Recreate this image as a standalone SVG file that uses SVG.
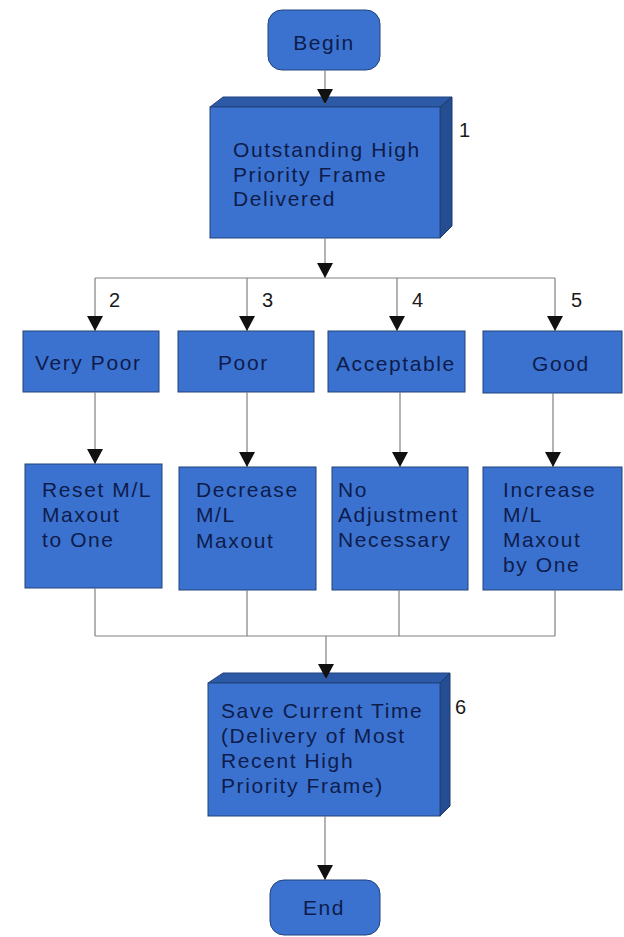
<svg xmlns="http://www.w3.org/2000/svg" width="624" height="937" viewBox="0 0 624 937">
  <style>
    .box { fill: #3b72cf; stroke: #22427a; stroke-width: 1; }
    .top { fill: #2d5aa6; stroke: #22427a; stroke-width: 1; }
    .side { fill: #254d91; stroke: #1d3a6c; stroke-width: 1; }
    .txt { font-family: "Liberation Sans", Arial, sans-serif; font-size: 21px; letter-spacing: 1.6px; fill: #0e1c4c; }
    .num { font-family: "Liberation Sans", Arial, sans-serif; font-size: 20px; fill: #1a1a1a; }
    .conn { fill: none; stroke: #808080; stroke-width: 1.2; }
    .arr { fill: none; stroke: #808080; stroke-width: 1.2; marker-end: url(#head); }
  </style>
  <defs>
    <marker id="head" markerUnits="userSpaceOnUse" viewBox="0 0 15 16" markerWidth="15" markerHeight="16" refX="15" refY="8" orient="auto">
      <path d="M0,0 L15,8 L0,16 Z" fill="#111"/>
    </marker>
  </defs>
  <rect width="624" height="937" fill="#ffffff"/>

  <!-- terminal: start -->
  <g id="begin">
    <rect class="box" x="268" y="10" width="112" height="60" rx="14"/>
    <text class="txt" x="324" y="50" text-anchor="middle">Begin</text>
  </g>

  <!-- step 1 (raised block) -->
  <g id="step1">
    <polygon class="top" points="210,107 223,97 452,97 440,107"/>
    <polygon class="side" points="440,107 452,97 452,226 440,238"/>
    <rect class="box" x="210" y="107" width="230" height="131"/>
    <text class="txt" x="233" y="157">Outstanding High</text>
    <text class="txt" x="233" y="182">Priority Frame</text>
    <text class="txt" x="233" y="206">Delivered</text>
    <text class="num" x="459" y="137">1</text>
  </g>

  <!-- quality classes -->
  <g id="very-poor">
    <rect class="box" x="23" y="331" width="136" height="61"/>
    <text class="txt" x="35" y="370">Very Poor</text>
  </g>
  <g id="poor">
    <rect class="box" x="178" y="331" width="136" height="61"/>
    <text class="txt" x="218" y="370">Poor</text>
  </g>
  <g id="acceptable">
    <rect class="box" x="328" y="331" width="137" height="61"/>
    <text class="txt" x="336" y="371">Acceptable</text>
  </g>
  <g id="good">
    <rect class="box" x="483" y="331" width="139" height="62"/>
    <text class="txt" x="532" y="371">Good</text>
  </g>

  <!-- adjustments -->
  <g id="reset">
    <rect class="box" x="25" y="464" width="137" height="124"/>
    <text class="txt" x="42" y="497">Reset M/L</text>
    <text class="txt" x="42" y="522">Maxout</text>
    <text class="txt" x="42" y="547">to One</text>
  </g>
  <g id="decrease">
    <rect class="box" x="179" y="467" width="137" height="123"/>
    <text class="txt" x="196" y="497">Decrease</text>
    <text class="txt" x="196" y="522">M/L</text>
    <text class="txt" x="196" y="548">Maxout</text>
  </g>
  <g id="no-adjust">
    <rect class="box" x="332" y="467" width="136" height="123"/>
    <text class="txt" x="338" y="497">No</text>
    <text class="txt" x="338" y="522">Adjustment</text>
    <text class="txt" x="338" y="547">Necessary</text>
  </g>
  <g id="increase">
    <rect class="box" x="483" y="467" width="139" height="123"/>
    <text class="txt" x="503" y="497">Increase</text>
    <text class="txt" x="503" y="522">M/L</text>
    <text class="txt" x="503" y="547">Maxout</text>
    <text class="txt" x="503" y="572">by One</text>
  </g>

  <!-- step 6 (raised block) -->
  <g id="step6">
    <polygon class="top" points="208,683 223,673 450,673 440,683"/>
    <polygon class="side" points="440,683 450,673 450,806 440,816"/>
    <rect class="box" x="208" y="683" width="232" height="133"/>
    <text class="txt" x="221" y="718">Save Current Time</text>
    <text class="txt" x="221" y="743">(Delivery of Most</text>
    <text class="txt" x="221" y="768">Recent High</text>
    <text class="txt" x="221" y="793">Priority Frame)</text>
    <text class="num" x="455" y="714">6</text>
  </g>

  <!-- terminal: finish -->
  <g id="end">
    <rect class="box" x="270" y="880" width="110" height="55" rx="14"/>
    <text class="txt" x="324" y="915" text-anchor="middle">End</text>
  </g>

  <!-- branch numbers -->
  <g id="branch-labels">
    <text class="num" x="109" y="307">2</text>
    <text class="num" x="262" y="307">3</text>
    <text class="num" x="412" y="307">4</text>
    <text class="num" x="571" y="307">5</text>
  </g>

  <!-- connectors -->
  <g id="connectors">
    <path class="arr" d="M325,70 V104"/>
    <path class="arr" d="M325,238 V278"/>
    <path class="conn" d="M95,278 H555"/>
    <path class="arr" d="M95,278 V331"/>
    <path class="arr" d="M247,278 V331"/>
    <path class="arr" d="M397,278 V331"/>
    <path class="arr" d="M555,278 V331"/>
    <path class="arr" d="M95,392 V464"/>
    <path class="arr" d="M247,392 V467"/>
    <path class="arr" d="M400,392 V467"/>
    <path class="arr" d="M553,393 V467"/>
    <path class="conn" d="M95,588 V636 M247,590 V636 M399,590 V636 M555,590 V636 M95,636 H555"/>
    <path class="arr" d="M326,636 V679"/>
    <path class="arr" d="M325,816 V880"/>
  </g>
</svg>
